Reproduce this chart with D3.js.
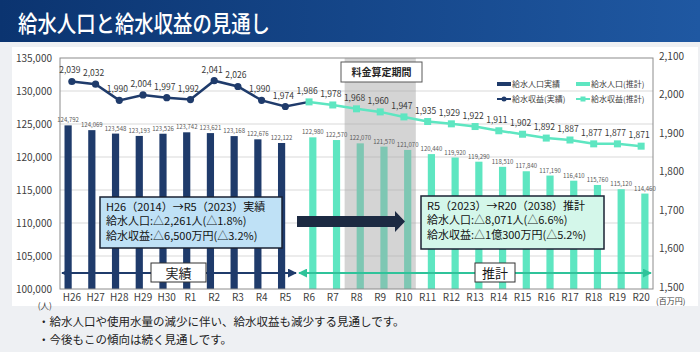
<html lang="ja">
<head>
<meta charset="UTF-8">
<title>給水人口と給水収益の見通し</title>
<script src="https://d3js.org/d3.v7.min.js"></script>
<style>
  body { margin: 0; background: #eef0f3; }
  svg { display: block; font-family: "Noto Sans CJK JP", "Noto Sans", sans-serif; }
</style>
</head>
<body>
<div id="chart"></div>
<script>
// categories (fiscal years)
const actualYears = ["H26", "H27", "H28", "H29", "H30", "R1", "R2", "R3", "R4", "R5"];
const forecastYears = ["R6", "R7", "R8", "R9", "R10", "R11", "R12", "R13", "R14", "R15", "R16", "R17", "R18", "R19", "R20"];
const categories = actualYears.concat(forecastYears);

// 給水人口 (人)
const popActual = [124792, 124069, 123548, 123193, 123526, 123742, 123621, 123168, 122676, 122122];
const popForecast = [122980, 122570, 122070, 121570, 121070, 120440, 119920, 119290, 118510, 117840, 117190, 116410, 115760, 115120, 114460];

// 給水収益 (百万円)
const revActual = [2039, 2032, 1990, 2004, 1997, 1992, 2041, 2026, 1990, 1974];
const revForecast = [1986, 1978, 1968, 1960, 1947, 1935, 1929, 1922, 1911, 1902, 1892, 1887, 1877, 1877, 1871];

const leftTicks = [100000, 105000, 110000, 115000, 120000, 125000, 130000, 135000];
const rightTicks = [1500, 1600, 1700, 1800, 1900, 2000, 2100];
const periodYears = ["R8", "R9", "R10"];

const W = 700, H = 352;
const navy = "#1f3b6b", teal = "#5ee6c1", tealDark = "#2fc39a";
const plot = { left: 60, right: 653, top: 58, bottom: 289 };

const svg = d3.select("#chart").append("svg")
  .attr("width", W).attr("height", H);

const defs = svg.append("defs");
const grad = defs.append("linearGradient").attr("id", "titleGrad");
grad.append("stop").attr("offset", "0%").attr("stop-color", "#0b3470");
grad.append("stop").attr("offset", "100%").attr("stop-color", "#1f58a2");

function arrowMarker(id, color) {
  defs.append("marker")
    .attr("id", id)
    .attr("viewBox", "0 0 10 10")
    .attr("refX", 9).attr("refY", 5)
    .attr("markerWidth", 4.5).attr("markerHeight", 4.5)
    .attr("orient", "auto-start-reverse")
    .append("path").attr("d", "M0,0 L10,5 L0,10 Z").attr("fill", color);
}
arrowMarker("arrNavy", navy);
arrowMarker("arrTeal", tealDark);

// title bar
svg.append("rect").attr("x", 0).attr("y", 0).attr("width", W).attr("height", 42)
  .attr("fill", "url(#titleGrad)");
svg.append("text").attr("x", 18).attr("y", 32)
  .attr("fill", "#fff").attr("font-size", 23).attr("font-weight", 500)
  .attr("textLength", 252).attr("lengthAdjust", "spacingAndGlyphs")
  .text("給水人口と給水収益の見通し");

// white panel
svg.append("rect").attr("x", 12).attr("y", 47).attr("width", 686).attr("height", 259)
  .attr("fill", "#fff");

// scales
const x = d3.scaleBand().domain(categories).range([plot.left, plot.right]);
const xs = d3.scaleBand().domain(["actual", "forecast"])
  .range([0, x.bandwidth()]).paddingInner(0.04).paddingOuter(0.6);
const yL = d3.scaleLinear().domain([100000, 135000]).range([plot.bottom, plot.top]);
const yR = d3.scaleLinear().domain([1500, 2100]).range([plot.bottom, plot.top]);
const cx = d => x(d) + x.bandwidth() / 2;

// gridlines
svg.append("g").selectAll("line").data(leftTicks.slice(1, -1)).join("line")
  .attr("x1", plot.left).attr("x2", plot.right)
  .attr("y1", d => yL(d)).attr("y2", d => yL(d))
  .attr("stroke", "#d9d9d9").attr("stroke-width", 1);

// axes labels
svg.append("g").selectAll("text").data(leftTicks).join("text")
  .attr("x", 52).attr("y", d => yL(d) + 3.5)
  .attr("text-anchor", "end").attr("font-size", 10).attr("fill", "#404040")
  .text(d => d3.format(",")(d));
svg.append("g").selectAll("text").data(rightTicks).join("text")
  .attr("x", 659).attr("y", d => yR(d) + 1.5)
  .attr("font-size", 10).attr("fill", "#404040")
  .text(d => d3.format(",")(d));
svg.append("g").selectAll("text").data(categories).join("text")
  .attr("x", d => cx(d)).attr("y", 301)
  .attr("text-anchor", "middle").attr("font-size", 10).attr("fill", "#404040")
  .text(d => d);
svg.append("text").attr("x", 52).attr("y", 308.5).attr("text-anchor", "end")
  .attr("font-size", 8.5).attr("fill", "#404040").text("(人)");
svg.append("text").attr("x", 656).attr("y", 304)
  .attr("font-size", 8).attr("fill", "#404040").text("(百万円)");

// bars
const barsA = actualYears.map((c, i) => ({ c, v: popActual[i] }));
const barsF = forecastYears.map((c, i) => ({ c, v: popForecast[i] }));
svg.append("g").selectAll("rect").data(barsA).join("rect")
  .attr("x", d => x(d.c) + xs("actual")).attr("width", xs.bandwidth())
  .attr("y", d => yL(d.v)).attr("height", d => yL(100000) - yL(d.v))
  .attr("fill", navy);
svg.append("g").selectAll("rect").data(barsF).join("rect")
  .attr("x", d => x(d.c) + xs("forecast")).attr("width", xs.bandwidth())
  .attr("y", d => yL(d.v)).attr("height", d => yL(100000) - yL(d.v))
  .attr("fill", teal);

// rate calculation period shading
const pStart = x(periodYears[0]);
const pEnd = x(periodYears[periodYears.length - 1]) + x.bandwidth();
svg.append("rect").attr("x", pStart).attr("y", plot.top)
  .attr("width", pEnd - pStart).attr("height", plot.bottom - plot.top)
  .attr("fill", "rgba(164,164,164,0.47)");

// plot border
svg.append("rect").attr("x", plot.left).attr("y", plot.top)
  .attr("width", plot.right - plot.left).attr("height", plot.bottom - plot.top)
  .attr("fill", "none").attr("stroke", "#8c8c8c").attr("stroke-width", 1);

// bar labels
const fmt = d3.format(",");
svg.append("g").selectAll("text").data(barsA).join("text")
  .attr("x", d => x(d.c) + xs("actual") + xs.bandwidth() / 2).attr("y", d => yL(d.v) - 3)
  .attr("text-anchor", "middle").attr("font-size", 6).attr("fill", "#595959")
  .text(d => fmt(d.v));
svg.append("g").selectAll("text").data(barsF).join("text")
  .attr("x", d => x(d.c) + xs("forecast") + xs.bandwidth() / 2).attr("y", d => yL(d.v) - 3)
  .attr("text-anchor", "middle").attr("font-size", 6).attr("fill", "#595959")
  .text(d => fmt(d.v));

// revenue lines
const revA = actualYears.map((c, i) => ({ c, v: revActual[i] }));
const revF = forecastYears.map((c, i) => ({ c, v: revForecast[i] }));
const line = d3.line().x(d => cx(d.c)).y(d => yR(d.v));
svg.append("path").datum(revF).attr("d", line)
  .attr("fill", "none").attr("stroke", teal).attr("stroke-width", 2.5);
svg.append("path").datum(revA.concat([revF[0]])).attr("d", line)
  .attr("fill", "none").attr("stroke", navy).attr("stroke-width", 2.5);
svg.append("g").selectAll("circle").data(revA).join("circle")
  .attr("cx", d => cx(d.c)).attr("cy", d => yR(d.v)).attr("r", 3.6)
  .attr("fill", navy);
svg.append("g").selectAll("rect").data(revF).join("rect")
  .attr("x", d => cx(d.c) - 3.5).attr("y", d => yR(d.v) - 3.5)
  .attr("width", 7).attr("height", 7).attr("fill", teal);
svg.append("g").selectAll("text").data(revA.concat(revF)).join("text")
  .attr("x", d => cx(d.c) - 2).attr("y", d => yR(d.v) - 8)
  .attr("text-anchor", "middle").attr("font-size", 8.5).attr("fill", "#3a3a3a")
  .text(d => fmt(d.v));

// period label box
svg.append("rect").attr("x", 341).attr("y", 62).attr("width", 81).attr("height", 20)
  .attr("fill", "#fff").attr("stroke", "#595959").attr("stroke-width", 1);
svg.append("text").attr("x", 381.5).attr("y", 76).attr("text-anchor", "middle")
  .attr("font-size", 10).attr("font-weight", "bold").attr("fill", "#262626")
  .text("料金算定期間");

// legend
const legend = [
  { label: "給水人口実績", x: 497, y: 84, color: navy, type: "bar" },
  { label: "給水人口(推計)", x: 576, y: 84, color: teal, type: "bar" },
  { label: "給水収益(実績)", x: 497, y: 99, color: navy, type: "circle" },
  { label: "給水収益(推計)", x: 576, y: 99, color: teal, type: "square" }
];
const lg = svg.append("g").selectAll("g").data(legend).join("g")
  .attr("transform", d => `translate(${d.x},${d.y})`);
lg.append("line").attr("x1", 0).attr("x2", 14).attr("y1", 0).attr("y2", 0)
  .attr("stroke", d => d.color).attr("stroke-width", d => d.type === "bar" ? 4 : 2);
lg.filter(d => d.type === "circle").append("circle").attr("cx", 7).attr("r", 2.5)
  .attr("fill", d => d.color);
lg.filter(d => d.type === "square").append("rect").attr("x", 4.5).attr("y", -2.5)
  .attr("width", 5).attr("height", 5).attr("fill", d => d.color);
lg.append("text").attr("x", 15).attr("y", 3).attr("font-size", 8).attr("fill", "#404040")
  .text(d => d.label);

// summary boxes
function box(x0, y0, w, h, fill, lines) {
  svg.append("rect").attr("x", x0).attr("y", y0).attr("width", w).attr("height", h)
    .attr("fill", fill).attr("stroke", "#1a2233").attr("stroke-width", 1.5);
  svg.append("g").selectAll("text").data(lines).join("text")
    .attr("x", x0 + 6).attr("y", (d, i) => y0 + 13.5 + i * 14.5)
    .attr("font-size", 11).attr("fill", "#111")
    .text(d => d);
}
box(100, 197, 182, 51, "#bfe1f6", [
  "H26（2014）→R5（2023）実績",
  "給水人口:△2,261人(△1.8%)",
  "給水収益:△6,500万円(△3.2%)"
]);
box(421, 196, 183, 53, "#d4f7ea", [
  "R5（2023）→R20（2038）推計",
  "給水人口:△8,071人(△6.6%)",
  "給水収益:△1億300万円(△5.2%)"
]);

// big arrow between boxes
svg.append("path")
  .attr("d", "M297,216 L395,216 L395,211 L405,221.5 L395,232 L395,227 L297,227 Z")
  .attr("fill", "#1c2a42");

// actual / forecast period arrows
svg.append("line").attr("x1", 62).attr("x2", 296).attr("y1", 273).attr("y2", 273)
  .attr("stroke", navy).attr("stroke-width", 2)
  .attr("marker-start", "url(#arrNavy)").attr("marker-end", "url(#arrNavy)");
svg.append("line").attr("x1", 299).attr("x2", 651).attr("y1", 273).attr("y2", 273)
  .attr("stroke", tealDark).attr("stroke-width", 2)
  .attr("marker-start", "url(#arrTeal)").attr("marker-end", "url(#arrTeal)");
[["実績", 151, 55], ["推計", 475, 40]].forEach(([t, bx, bw]) => {
  svg.append("rect").attr("x", bx).attr("y", 263).attr("width", bw).attr("height", 19)
    .attr("fill", "#fff").attr("stroke", "#333").attr("stroke-width", 1);
  svg.append("text").attr("x", bx + bw / 2).attr("y", 277.5).attr("text-anchor", "middle")
    .attr("font-size", 13).attr("fill", "#1a1a1a").text(t);
});

// notes
svg.append("g").selectAll("text").data([
  "・給水人口や使用水量の減少に伴い、給水収益も減少する見通しです。",
  "・今後もこの傾向は続く見通しです。"
]).join("text")
  .attr("x", 38).attr("y", (d, i) => 326 + i * 17.5)
  .attr("font-size", 11.5).attr("fill", "#222")
  .text(d => d);
</script>
</body>
</html>
